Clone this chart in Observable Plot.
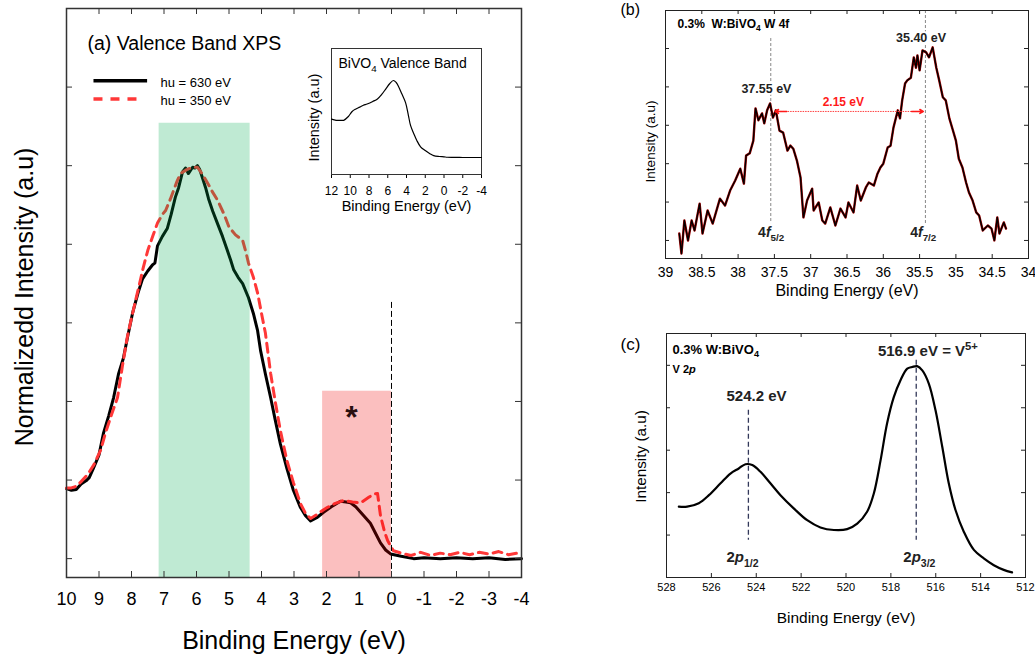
<!DOCTYPE html>
<html><head><meta charset="utf-8">
<script src="https://cdn.jsdelivr.net/npm/d3@7"></script>
<script src="https://cdn.jsdelivr.net/npm/@observablehq/plot@0.6"></script>
<style>
body{margin:0;background:#fff;}
#root{position:relative;width:1035px;height:657px;overflow:hidden;background:#fff;}
#root svg{position:absolute;background:transparent;overflow:visible;}
</style></head><body><div id="root"></div>
<script>
// ---------- Panel (a): valence band XPS ----------
const vbEnergy630 = [10, 9.85, 9.7, 9.55, 9.4, 9.3, 9.17, 9.0, 8.86, 8.7,
  8.55, 8.4, 8.25, 8.12, 7.97, 7.8, 7.66, 7.5, 7.35, 7.28,
  7.2, 7.05, 6.9, 6.78, 6.65, 6.55, 6.43, 6.34, 6.25, 6.12,
  6.05, 5.97, 5.9, 5.82, 5.72, 5.63, 5.5, 5.35, 5.2, 5.05,
  4.95, 4.86, 4.72, 4.58, 4.4, 4.25, 4.12, 4.03, 3.88, 3.72,
  3.57, 3.42, 3.22, 3.02, 2.8, 2.65, 2.49, 2.3, 2.09, 1.85,
  1.57, 1.4, 1.26, 1.1, 0.95, 0.8, 0.65, 0.5, 0.34, 0.18,
  0.03, -0.3, -0.68, -1.0, -1.5, -2.0, -2.5, -3.0, -3.5, -4.0];
const vbIntensity630 = [0.89, 0.87, 0.88, 0.95, 0.99, 1.03, 1.15, 1.32, 1.6, 1.82,
  2.05, 2.35, 2.55, 2.82, 3.12, 3.38, 3.56, 3.66, 3.74, 3.76,
  3.98, 4.1, 4.2, 4.38, 4.6, 4.72, 4.92, 4.97, 4.9, 4.98,
  4.97, 5.0, 4.95, 4.85, 4.72, 4.58, 4.42, 4.26, 4.1, 3.92,
  3.8, 3.68, 3.58, 3.5, 3.32, 3.12, 2.9, 2.65, 2.35, 2.05,
  1.75, 1.46, 1.15, 0.87, 0.65, 0.55, 0.48, 0.52, 0.59, 0.66,
  0.73, 0.72, 0.71, 0.66, 0.59, 0.52, 0.45, 0.33, 0.2, 0.11,
  0.06, 0.03, 0.0, 0.01, 0.0, 0.01, 0.0, 0.01, -0.01, 0.0];
const vbEnergy350 = [10, 9.85, 9.7, 9.55, 9.35, 9.15, 8.95, 8.8, 8.6, 8.43,
  8.28, 8.12, 7.95, 7.78, 7.64, 7.5, 7.35, 7.2, 7.05, 6.95,
  6.8, 6.7, 6.6, 6.49, 6.3, 6.12, 5.97, 5.8, 5.66, 5.5,
  5.35, 5.15, 5.0, 4.8, 4.58, 4.48, 4.4, 4.25, 4.12, 4.0,
  3.88, 3.72, 3.57, 3.42, 3.22, 3.02, 2.8, 2.65, 2.49, 2.3,
  2.1, 1.98, 1.75, 1.48, 1.2, 0.95, 0.7, 0.55, 0.43, 0.34,
  0.22, 0.12, -0.06, -0.3, -0.6, -0.9, -1.2, -1.5, -1.8, -2.1,
  -2.4, -2.7, -3.0, -3.3, -3.6, -4.0];
const vbIntensity350 = [0.9, 0.9, 0.92, 0.98, 1.07, 1.2, 1.38, 1.6, 1.85, 2.05,
  2.45, 2.84, 3.15, 3.45, 3.7, 3.92, 4.1, 4.27, 4.38, 4.43,
  4.58, 4.69, 4.8, 4.9, 4.95, 4.98, 4.98, 4.88, 4.78, 4.66,
  4.56, 4.38, 4.22, 4.12, 4.05, 3.9, 3.76, 3.58, 3.38, 3.12,
  2.87, 2.36, 1.98, 1.63, 1.25, 0.97, 0.7, 0.58, 0.51, 0.56,
  0.62, 0.65, 0.7, 0.74, 0.72, 0.71, 0.78, 0.82, 0.83, 0.55,
  0.35, 0.23, 0.1, 0.07, 0.04, 0.08, 0.04, 0.07, 0.05, 0.08,
  0.05, 0.08, 0.06, 0.09, 0.05, 0.08];
const vbTicksX = [10, 9, 8, 7, 6, 5, 4, 3, 2, 1, 0, -1, -2, -3, -4];
const vbTicksY = [0, 1, 2, 3, 4, 5, 6];
const vbYDomain = [-0.24, 7];
const vbBandO2p = {from: 7.15, to: 4.35, top: 5.54};   // green band
const vbBandGap = {from: 2.12, to: 0, top: 2.13};      // red band (*)
const fermiLine = {e: 0, top: 3.26};
const vbLegend = [
  {label: "hu = 630 eV", from: 9.17, to: 7.52, level: 6.08},
  {label: "hu = 350 eV", from: 9.17, to: 7.72, level: 5.85}
];

// ---------- Inset: BiVO4 valence band ----------
const insetEnergy = [12, 11.5, 11, 10.7, 10.2, 9.8, 9.4, 9, 8.6, 8.2,
  7.6, 7.1, 6.6, 6.2, 5.8, 5.4, 5.1, 4.8, 4.5, 4.1,
  3.8, 3.57, 3.2, 2.9, 2.5, 2, 1.5, 1.1, 0.5, 0,
  -0.34, -1, -2, -3, -4];
const insetIntensity = [0.44, 0.43, 0.43, 0.43, 0.46, 0.5, 0.52, 0.535, 0.55, 0.56,
  0.58, 0.6, 0.64, 0.68, 0.72, 0.746, 0.73, 0.69, 0.64, 0.57,
  0.47, 0.39, 0.32, 0.27, 0.22, 0.19, 0.165, 0.15, 0.143, 0.14,
  0.137, 0.136, 0.135, 0.135, 0.135];
const insetTicksX = [12, 10, 8, 6, 4, 2, 0, -2, -4];

// ---------- Panel (b): W 4f ----------
const w4fEnergy = [38.81, 38.78, 38.74, 38.69, 38.64, 38.6, 38.53, 38.49, 38.42, 38.35,
  38.25, 38.18, 38.11, 38.04, 37.97, 37.92, 37.89, 37.84, 37.79, 37.76,
  37.72, 37.67, 37.64, 37.6, 37.56, 37.52, 37.48, 37.43, 37.38, 37.32,
  37.28, 37.24, 37.19, 37.14, 37.1, 37.05, 36.98, 36.96, 36.89, 36.84,
  36.8, 36.73, 36.66, 36.59, 36.52, 36.48, 36.41, 36.36, 36.31, 36.24,
  36.2, 36.13, 36.08, 36.04, 36.0, 35.94, 35.9, 35.86, 35.8, 35.77,
  35.74, 35.7, 35.67, 35.62, 35.58, 35.55, 35.53, 35.5, 35.46, 35.41,
  35.37, 35.32, 35.27, 35.23, 35.18, 35.14, 35.09, 35.04, 35.0, 34.96,
  34.91, 34.86, 34.82, 34.77, 34.72, 34.68, 34.63, 34.56, 34.51, 34.47,
  34.43, 34.4, 34.34, 34.31];
const w4fIntensity = [0.18, -0.34, 0.52, 0.0, 0.52, 0.26, 0.96, 0.18, 0.78, 0.44,
  1.09, 0.91, 1.3, 1.56, 1.87, 1.48, 2.21, 2.27, 2.6, 3.44,
  3.13, 3.31, 3.05, 3.39, 3.57, 3.2, 3.39, 2.86, 2.81, 2.34,
  2.47, 2.39, 2.08, 1.64, 0.6, 1.04, 1.35, 0.78, 0.99, 0.52,
  0.44, 0.86, 0.39, 0.83, 0.6, 0.99, 0.73, 1.43, 1.04, 1.38,
  1.51, 1.43, 1.74, 1.9, 2.0, 2.42, 2.47, 2.94, 3.39, 3.18,
  3.65, 4.09, 4.17, 4.24, 4.77, 4.5, 4.82, 4.43, 4.95, 4.9,
  4.77, 5.03, 4.5, 4.17, 3.73, 3.65, 3.18, 2.86, 2.6, 2.13,
  1.9, 1.51, 1.25, 1.04, 0.73, 0.65, 0.26, 0.39, 0.31, 0.0,
  0.6, 0.18, 0.47, 0.31];
const w4fTicksX = [39, 38.5, 38, 37.5, 37, 36.5, 36, 35.5, 35, 34.5, 34];
const w4fTicksY = [0, 1, 2, 3, 4, 5];
const w4fYDomain = [-0.47, 5.99];
const w4fPeaks = [
  {e: 37.55, top: 5.26, bottom: 0.44, value: "37.55 eV", lx: 37.61, ly: 3.83, name: "4~f~_{5/2}", nx: 37.545},
  {e: 35.42, top: 5.99, bottom: 0.44, value: "35.40 eV", lx: 35.48, ly: 5.16, name: "4~f~_{7/2}", nx: 35.45}
];
const w4fSplit = {from: 37.49, to: 35.45, level: 3.36, label: "2.15 eV", lx: 36.55, ly: 3.49};

// ---------- Panel (c): V 2p ----------
const v2pEnergy = [527.45, 527.08, 526.56, 526.11, 525.59, 525.15, 524.78, 524.48, 524.18, 523.81,
  523.37, 522.92, 522.33, 521.73, 521.14, 520.54, 519.95, 519.5, 519.06, 518.76,
  518.46, 518.17, 517.87, 517.57, 517.27, 517.05, 516.83, 516.6, 516.31, 516.01,
  515.71, 515.42, 515.12, 514.75, 514.3, 513.86, 513.41, 512.97, 512.6];
const v2pIntensity = [1.67, 1.67, 1.75, 1.94, 2.22, 2.45, 2.57, 2.67, 2.65, 2.49,
  2.22, 1.94, 1.63, 1.35, 1.18, 1.12, 1.14, 1.27, 1.55, 1.98,
  2.76, 3.63, 4.25, 4.65, 4.92, 4.96, 4.98, 4.88, 4.57, 3.94,
  3.08, 2.22, 1.59, 1.08, 0.65, 0.45, 0.29, 0.18, 0.12];
const v2pTicksX = [528, 526, 524, 522, 520, 518, 516, 514, 512];
const v2pTicksY = [1, 2, 3, 4, 5];
const v2pYDomain = [0, 5.75];
const v2pPeaks = [
  {e: 524.35, top: 3.94, bottom: 0.88, value: "524.2 eV", lx: 523.99, ly: 4.15, name: "2~p~_{1/2}", nx: 524.61},
  {e: 516.87, top: 5.12, bottom: 0.88, value: "516.9 eV = V^{5+}", lx: 516.35, ly: 5.21, name: "2~p~_{3/2}", nx: 516.73}
];

// ---------- helpers ----------
const FONT = '"Liberation Sans", Arial, Helvetica, sans-serif';
const rows = (xs, ys) => xs.map((e, i) => ({e, v: ys[i]}));
function frameTicks(xt, yt, fw, fh, len, stroke = "#222") {
  return [
    Plot.tickX(xt, {x: d => d, insetTop: fh - len, stroke}),
    Plot.tickX(xt, {x: d => d, insetBottom: fh - len, stroke}),
    Plot.tickY(yt, {y: d => d, insetRight: fw - len, stroke}),
    Plot.tickY(yt, {y: d => d, insetLeft: fw - len, stroke})
  ];
}
const label = (t, o) => Plot.text([t], {text: d => d, lineAnchor: "bottom", ...o});
const yLabel = (t, o) => label(t, {frameAnchor: "left", textAnchor: "middle", rotate: -90, ...o});
const root = document.getElementById("root");
function place(svg, left, top) {
  svg.style.left = left + "px"; svg.style.top = top + "px";
  svg.style.background = "transparent";
  root.appendChild(svg);
}

// ---------- Panel (a) ----------
{
  const W = 540, H = 657, ml = 66, mr = 19, mt = 8, mb = 80;
  const fw = W - ml - mr, fh = H - mt - mb;
  const svg = Plot.plot({
    width: W, height: H, marginLeft: ml, marginRight: mr, marginTop: mt, marginBottom: mb,
    style: {fontFamily: FONT, fontSize: "18px", background: "transparent", color: "#000"},
    x: {domain: [10, -4], ticks: vbTicksX, tickSize: 0, tickPadding: 15, tickFormat: d => String(d), label: null},
    y: {domain: vbYDomain, axis: null},
    marks: [
      Plot.line(rows(vbEnergy630, vbIntensity630), {x: "e", y: "v", stroke: "#000", strokeWidth: 3}),
      Plot.line(rows(vbEnergy350, vbIntensity350), {x: "e", y: "v", stroke: "#ff3838", strokeWidth: 3, strokeDasharray: "9,6"}),
      Plot.rect([vbBandO2p], {x1: "from", x2: "to", y1: () => vbYDomain[0], y2: "top", fill: "rgb(0,170,80)", fillOpacity: 0.25}),
      Plot.rect([vbBandGap], {x1: "from", x2: "to", y1: () => vbYDomain[0], y2: "top", fill: "rgb(240,0,0)", fillOpacity: 0.25}),
      Plot.ruleX([fermiLine], {x: "e", y1: "top", y2: () => vbYDomain[0], stroke: "#000", strokeWidth: 1, strokeDasharray: "6,3"}),
      Plot.text(["*"], {x: () => 1.23, y: () => 1.66, text: d => d, lineAnchor: "bottom", fontSize: 32, fontWeight: "bold", fill: "#2a1010"}),
      Plot.frame({stroke: "#333", strokeWidth: 1.5}),
      ...frameTicks(vbTicksX, vbTicksY, fw, fh, 6, "#333"),
      // legend
      Plot.link([vbLegend[0]], {x1: "from", x2: "to", y1: "level", y2: "level", stroke: "#000", strokeWidth: 3.5}),
      Plot.link([vbLegend[1]], {x1: "from", x2: "to", y1: "level", y2: "level", stroke: "#ff3838", strokeWidth: 3.5, strokeDasharray: "9,8"}),
      label(vbLegend[0].label, {frameAnchor: "top-left", textAnchor: "start", dx: 94, dy: 78, fontSize: 13}),
      label(vbLegend[1].label, {frameAnchor: "top-left", textAnchor: "start", dx: 94, dy: 96, fontSize: 13}),
      label("(a) Valence Band XPS", {frameAnchor: "top-left", textAnchor: "start", dx: 21, dy: 41, fontSize: 19.5}),
      label("Binding Energy (eV)", {frameAnchor: "bottom", dy: 71, fontSize: 25}),
      yLabel("Normalizedd Intensity (a.u)", {dx: -34, dy: 4, fontSize: 25})
    ]
  });
  place(svg, 0, 0);
}

// ---------- Inset ----------
{
  const svg = Plot.plot({
    width: 200, height: 180, marginLeft: 41, marginRight: 9, marginTop: 8, marginBottom: 46,
    style: {fontFamily: FONT, fontSize: "12px", background: "transparent", color: "#000"},
    x: {domain: [12, -4], ticks: insetTicksX, tickSize: 4, tickPadding: 8, tickFormat: d => String(d), label: null},
    y: {domain: [0, 1], axis: null},
    marks: [
      Plot.frame({stroke: "#333"}),
      Plot.line(rows(insetEnergy, insetIntensity), {x: "e", y: "v", stroke: "#000", strokeWidth: 1.2, curve: "catmull-rom"}),
      label("BiVO_{4} Valence Band", {frameAnchor: "top-left", textAnchor: "start", dx: 7, dy: 19.5, fontSize: 14}),
      label("Binding Energy (eV)", {frameAnchor: "bottom", dy: 36, fontSize: 14.5}),
      yLabel("Intensity (a.u)", {dx: -13, dy: 6, fontSize: 14.5})
    ]
  });
  place(svg, 290, 40);
}

// ---------- Panel (b) ----------
{
  const W = 415, H = 300, ml = 45, mr = 7, mt = 10, mb = 42;
  const fw = W - ml - mr, fh = H - mt - mb;
  const data = rows(w4fEnergy, w4fIntensity);
  const halo = {stroke: "white", strokeWidth: 4, paintOrder: "stroke"};
  const heads = [
    {x1: w4fSplit.from - 0.16, x2: w4fSplit.from, y: w4fSplit.level},
    {x1: w4fSplit.to + 0.16, x2: w4fSplit.to, y: w4fSplit.level}
  ];
  const svg = Plot.plot({
    width: W, height: H, marginLeft: ml, marginRight: mr, marginTop: mt, marginBottom: mb,
    style: {fontFamily: FONT, fontSize: "14px", background: "transparent", color: "#000"},
    x: {domain: [39, 34], ticks: w4fTicksX, tickSize: 0, tickPadding: 9, tickFormat: d => String(d), label: null},
    y: {domain: w4fYDomain, axis: null},
    marks: [
      Plot.ruleX(w4fPeaks, {x: "e", y1: "top", y2: "bottom", stroke: "#888", strokeWidth: 1, strokeDasharray: "3,2"}),
      Plot.line(data, {x: "e", y: "v", stroke: "#a00000", strokeWidth: 2.4}),
      Plot.line(data, {x: "e", y: "v", stroke: "#000", strokeWidth: 1.3}),
      Plot.link([w4fSplit], {x1: "from", x2: "to", y1: "level", y2: "level", stroke: "#ff4040", strokeWidth: 1, strokeDasharray: "1.5,1"}),
      Plot.arrow(heads, {x1: "x1", x2: "x2", y1: "y", y2: "y", stroke: "#ff1a1a", strokeWidth: 1.6, headLength: 9}),
      Plot.text([w4fSplit], {x: "lx", y: "ly", text: "label", lineAnchor: "bottom", fontSize: 12, fontWeight: "bold", fill: "#ff1a1a"}),
      Plot.text(w4fPeaks, {x: "lx", y: "ly", text: "value", lineAnchor: "bottom", fontSize: 12.5, fontWeight: "bold", fill: "#222", ...halo}),
      Plot.text(w4fPeaks, {x: "nx", y: () => 0.09, text: "name", lineAnchor: "bottom", fontSize: 14, fontWeight: "bold", fill: "#222"}),
      Plot.frame({stroke: "#222"}),
      ...frameTicks(w4fTicksX, w4fTicksY, fw, fh, 4),
      label("0.3%  W:BiVO_{4} W 4f", {frameAnchor: "top-left", textAnchor: "start", dx: 12, dy: 17, fontSize: 12, fontWeight: "bold"}),
      label("(b)", {frameAnchor: "top-left", textAnchor: "start", dx: -45, dy: 4, fontSize: 16}),
      label("Binding Energy (eV)", {frameAnchor: "bottom", dy: 37, fontSize: 16}),
      yLabel("Intensity (a.u)", {dx: -11, dy: 7, fontSize: 13.5})
    ]
  });
  place(svg, 620, 0);
}

// ---------- Panel (c) ----------
{
  const W = 415, H = 337, ml = 46, mr = 10, mt = 13, mb = 80;
  const fw = W - ml - mr, fh = H - mt - mb;
  const svg = Plot.plot({
    width: W, height: H, marginLeft: ml, marginRight: mr, marginTop: mt, marginBottom: mb,
    style: {fontFamily: FONT, fontSize: "11px", background: "transparent", color: "#000"},
    x: {domain: [528, 512], ticks: v2pTicksX, tickSize: 0, tickPadding: 6, tickFormat: d => String(d), label: null},
    y: {domain: v2pYDomain, axis: null},
    marks: [
      Plot.ruleX(v2pPeaks, {x: "e", y1: "top", y2: "bottom", stroke: "#33395a", strokeWidth: 1.3, strokeDasharray: "5,3"}),
      Plot.line(rows(v2pEnergy, v2pIntensity), {x: "e", y: "v", stroke: "#000", strokeWidth: 2.2, curve: "catmull-rom"}),
      Plot.text(v2pPeaks, {x: "lx", y: "ly", text: "value", lineAnchor: "bottom", fontSize: 15, fontWeight: "bold", fill: "#222"}),
      Plot.text(v2pPeaks, {x: "nx", y: () => 0.365, text: "name", lineAnchor: "bottom", fontSize: 15, fontWeight: "bold", fill: "#222"}),
      Plot.frame({stroke: "#222"}),
      ...frameTicks(v2pTicksX, v2pTicksY, fw, fh, 4),
      label("0.3% W:BiVO_{4}", {frameAnchor: "top-left", textAnchor: "start", dx: 6, dy: 20, fontSize: 13, fontWeight: "bold"}),
      label("V 2~p~", {frameAnchor: "top-left", textAnchor: "start", dx: 6, dy: 39, fontSize: 11, fontWeight: "bold"}),
      label("(c)", {frameAnchor: "top-left", textAnchor: "start", dx: -46, dy: 16, fontSize: 17}),
      label("Binding Energy (eV)", {frameAnchor: "bottom", dy: 45, fontSize: 15.5}),
      yLabel("Intensity (a.u)", {dx: -20.5, dy: 1, fontSize: 15.3})
    ]
  });
  place(svg, 620, 320);
}

// ---------- rich text: subscripts, superscripts, italics ----------
function richify(el) {
  el.querySelectorAll("text").forEach(t => {
    const s = t.textContent;
    t.style.whiteSpace = "pre";
    if (!/(_\{|\^\{|~)/.test(s)) return;
    const fs = parseFloat(getComputedStyle(t).fontSize);
    const parts = s.split(/(_\{[^}]*\}|\^\{[^}]*\}|~[^~]*~)/).filter(p => p);
    t.textContent = "";
    let cur = 0;
    for (const p of parts) {
      let txt = p, shift = 0, size = null, italic = false;
      if (p.startsWith("_{")) { txt = p.slice(2, -1); shift = 0.3 * fs; size = 0.7 * fs; }
      else if (p.startsWith("^{")) { txt = p.slice(2, -1); shift = -0.42 * fs; size = 0.75 * fs; }
      else if (p.startsWith("~")) { txt = p.slice(1, -1); italic = true; }
      const ts = document.createElementNS("http://www.w3.org/2000/svg", "tspan");
      if (shift !== cur) ts.setAttribute("dy", shift - cur);
      cur = shift;
      if (size) ts.setAttribute("font-size", size);
      if (italic) ts.setAttribute("font-style", "italic");
      ts.style.whiteSpace = "pre";
      ts.textContent = txt;
      t.appendChild(ts);
    }
  });
}
richify(root);
</script></body></html>
